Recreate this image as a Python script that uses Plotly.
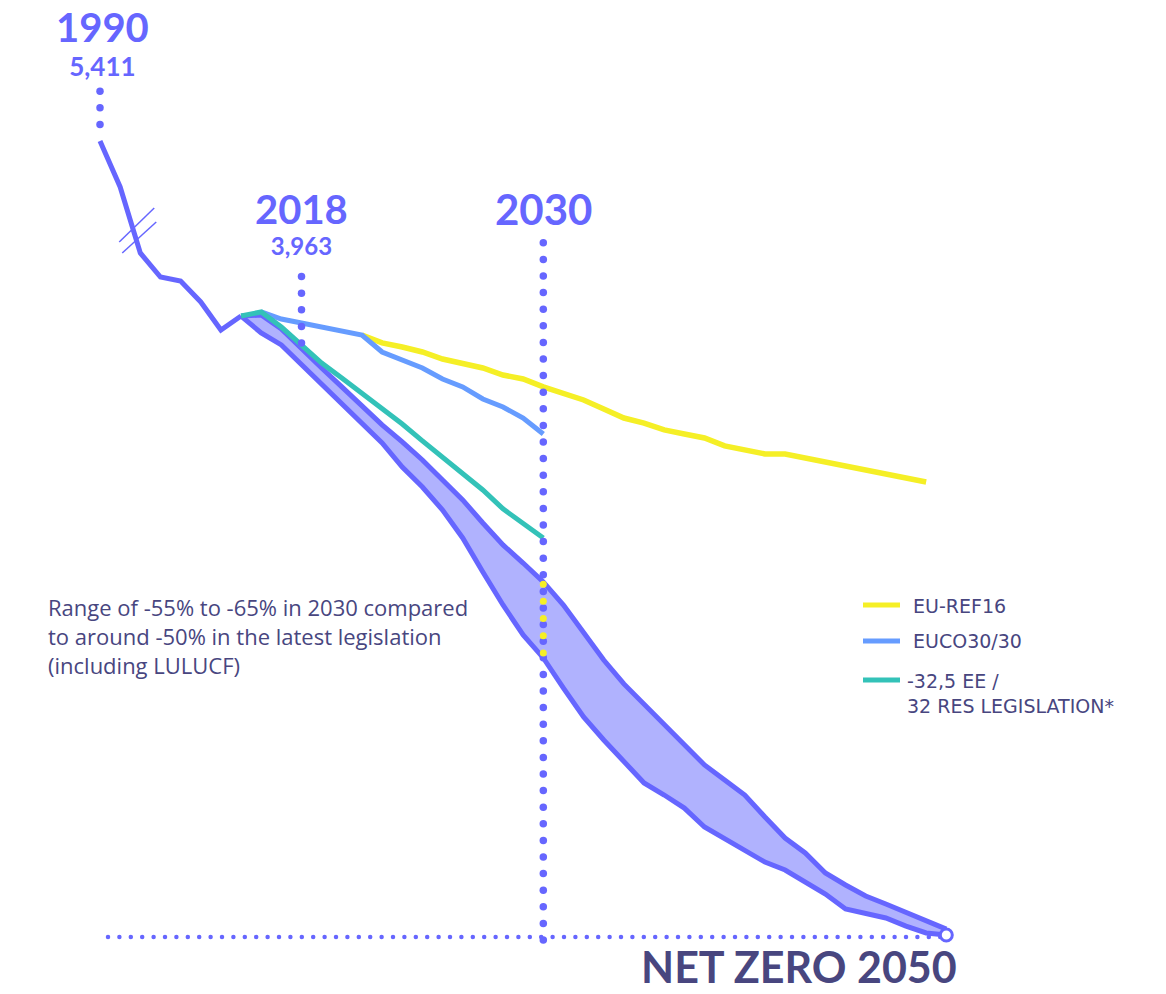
import numpy as np
import plotly.graph_objects as go

# ---------------- data (Mt CO2e) ----------------
years = [1990, 2005] + list(range(2010, 2051))

hist_years = [1990, 2005, 2010, 2011, 2012, 2013, 2014, 2015]
hist_vals = [5411, 5098, 4648, 4484, 4457, 4314, 4123, 4218]

ref16_years = list(range(2021, 2050))
ref16_vals = [4089, 4035, 4007, 3973, 3925, 3898, 3864, 3816, 3789, 3735,
              3694, 3646, 3585, 3523, 3489, 3442, 3414, 3387, 3333, 3305,
              3278, 3278, 3251, 3223, 3196, 3169, 3142, 3114, 3087]

euco_years = list(range(2016, 2031))
euco_vals = [4246, 4198, 4171, 4143, 4116, 4089, 3973, 3919, 3864, 3789,
             3735, 3653, 3598, 3523, 3414]

leg_years = list(range(2015, 2031))
leg_vals = [4218, 4246, 4143, 4021, 3898, 3796, 3694, 3591, 3482, 3367,
            3258, 3149, 3033, 2904, 2801, 2706]

band_years = list(range(2015, 2051))
band_upper = [4218, 4225, 4130, 3994, 3864, 3735, 3605, 3476, 3360, 3237,
              3101, 2965, 2808, 2658, 2535, 2406, 2249, 2058, 1874, 1711,
              1574, 1438, 1308, 1159, 1056, 954, 804, 661, 559, 423,
              341, 266, 211, 157, 102, 40]
band_lower = [4218, 4103, 4021, 3885, 3755, 3619, 3482, 3353, 3189, 3053,
              2896, 2706, 2474, 2249, 2045, 1888, 1683, 1486, 1329, 1179,
              1036, 954, 865, 736, 654, 579, 497, 443, 361, 279,
              177, 150, 116, 61, 14, 0]

label_1990 = "5,411"
label_2018 = "3,963"
legend_names = ["EU-REF16", "EUCO30/30", "-32,5 EE /<br>32 RES LEGISLATION*"]
note_lines = ["Range of -55% to -65% in 2030 compared",
              "to around -50% in the latest legislation",
              "(including LULUCF)"]

# ---------------- styling / layout helpers ----------------
W, H = 1166, 994
X0_PX, X_STEP_PX = 100.0, 20.15
Y0_PX, V_PER_PX = 935.0, 5411 / 794

PURPLE = "#6666ff"
FILL = "#b0b2fe"
TEAL = "#33c2b8"
BLUE = "#669cff"
YELLOW = "#f5ef26"
NAVY = "#48467f"

pos = {y: i for i, y in enumerate(years)}


def P(ys):
    return [pos[y] for y in ys]


def xp(px):
    return (px - X0_PX) / X_STEP_PX


def yp(py):
    return (Y0_PX - py) * V_PER_PX


fig = go.Figure()

# band fill
fig.add_trace(go.Scatter(
    x=P(band_years) + P(band_years)[::-1],
    y=band_upper + band_lower[::-1],
    fill="toself", fillcolor=FILL, line=dict(width=0), mode="lines",
    hoverinfo="skip"))

# band edges + historical
for ys in (band_upper, band_lower):
    fig.add_trace(go.Scatter(x=P(band_years), y=ys, mode="lines",
                             line=dict(color=PURPLE, width=5)))
fig.add_trace(go.Scatter(x=P(hist_years), y=hist_vals, mode="lines",
                         line=dict(color=PURPLE, width=5)))

# scenarios
fig.add_trace(go.Scatter(x=P(ref16_years), y=ref16_vals, mode="lines",
                         line=dict(color=YELLOW, width=5.5)))
fig.add_trace(go.Scatter(x=P(euco_years), y=euco_vals, mode="lines",
                         line=dict(color=BLUE, width=5)))
fig.add_trace(go.Scatter(x=P(leg_years), y=leg_vals, mode="lines",
                         line=dict(color=TEAL, width=5)))

# dotted guides
step_v = 16.6 * V_PER_PX
d1990 = np.arange(hist_vals[0] + step_v, yp(88), step_v)
d2018 = np.arange(yp(343), yp(272), step_v)
d2030 = np.arange(yp(940), yp(240), step_v)
fig.add_trace(go.Scatter(x=[pos[1990]] * len(d1990), y=d1990, mode="markers",
                         marker=dict(color=PURPLE, size=7.5)))
fig.add_trace(go.Scatter(x=[pos[2018]] * len(d2018), y=d2018, mode="markers",
                         marker=dict(color=PURPLE, size=7.5)))
fig.add_trace(go.Scatter(x=[pos[2030]] * len(d2030), y=d2030, mode="markers",
                         marker=dict(color=PURPLE, size=7.5)))
i30 = band_years.index(2030)
dy = np.linspace(band_upper[i30] - 2.2 * V_PER_PX, band_lower[i30] + 5 * V_PER_PX, 5)
fig.add_trace(go.Scatter(x=[pos[2030]] * len(dy), y=dy, mode="markers",
                         marker=dict(color=YELLOW, size=7)))
hx = np.arange(xp(108), pos[2050] - 0.3, 11.4 / X_STEP_PX)
fig.add_trace(go.Scatter(x=hx, y=[yp(937)] * len(hx), mode="markers",
                         marker=dict(color=PURPLE, size=4.5)))

# net-zero end circle
fig.add_trace(go.Scatter(x=[pos[2050]], y=[0], mode="markers",
                         marker=dict(color="white", size=12,
                                     line=dict(color=PURPLE, width=3))))

shapes = []
# axis break mark
bx = (pos[2005] + pos[2010]) / 2
by = (hist_vals[1] + hist_vals[2]) / 2
for (a, b, c, d) in [(-11, -22, 24, 12), (-8, -33, 26, -2)]:
    shapes.append(dict(type="line", xref="x", yref="y", xsizemode="pixel",
                       ysizemode="pixel", xanchor=bx, yanchor=by,
                       x0=a, y0=b, x1=c, y1=d,
                       line=dict(color=PURPLE, width=1.5)))

# legend
leg_cols = [YELLOW, BLUE, TEAL]
leg_py = [605, 641, 680]
for col, py in zip(leg_cols, leg_py):
    shapes.append(dict(type="line", xref="x", yref="y",
                       x0=xp(863), x1=xp(900), y0=yp(py), y1=yp(py),
                       line=dict(color=col, width=5)))

ann = []
TF = "Lato"
ann.append(dict(x=pos[1990] + 0.1, y=yp(84), yanchor="bottom",
                text="<span style='font-size:40px'><b>1990</b></span><br><b>"
                     + label_1990 + "</b>",
                font=dict(family=TF, size=26, color=PURPLE)))
ann.append(dict(x=pos[2018], y=yp(262), yanchor="bottom",
                text="<span style='font-size:40px'><b>2018</b></span><br><b>"
                     + label_2018 + "</b>",
                font=dict(family=TF, size=24, color=PURPLE)))
ann.append(dict(x=pos[2030], y=yp(236), yanchor="bottom", text="<b>2030</b>",
                font=dict(family=TF, size=42, color=PURPLE)))
ann.append(dict(x=xp(799), y=yp(994), yanchor="bottom", text="<b>NET ZERO 2050</b>",
                font=dict(family=TF, size=43, color=NAVY, weight=900)))
for i, line in enumerate(note_lines):
    ann.append(dict(x=xp(46), y=yp(607 + 29 * i), text=line, xanchor="left",
                    font=dict(family="Open Sans", size=22, color=NAVY)))
LF = "DejaVu Sans"
ann.append(dict(x=xp(911), y=yp(606), text=legend_names[0], xanchor="left",
                font=dict(family=LF, size=19, color=NAVY)))
ann.append(dict(x=xp(911), y=yp(641), text=legend_names[1], xanchor="left",
                font=dict(family=LF, size=19, color=NAVY)))
ann.append(dict(x=xp(905), y=yp(693), text=legend_names[2], xanchor="left",
                align="left", yanchor="middle",
                font=dict(family=LF, size=19, color=NAVY)))
for a in ann:
    a.setdefault("xref", "x")
    a.setdefault("yref", "y")
    a.setdefault("showarrow", False)
    a.setdefault("xanchor", "center")
    a.setdefault("yanchor", "middle")

fig.update_layout(
    width=W, height=H, margin=dict(l=0, r=0, t=0, b=0),
    paper_bgcolor="white", plot_bgcolor="white", showlegend=False,
    xaxis=dict(visible=False, range=[xp(0), xp(W)], fixedrange=True),
    yaxis=dict(visible=False, range=[yp(H), yp(0)], fixedrange=True),
    shapes=shapes, annotations=ann,
)

fig.write_html("out.html", config={"displayModeBar": False},
               post_script="document.body.style.margin='0px';")
